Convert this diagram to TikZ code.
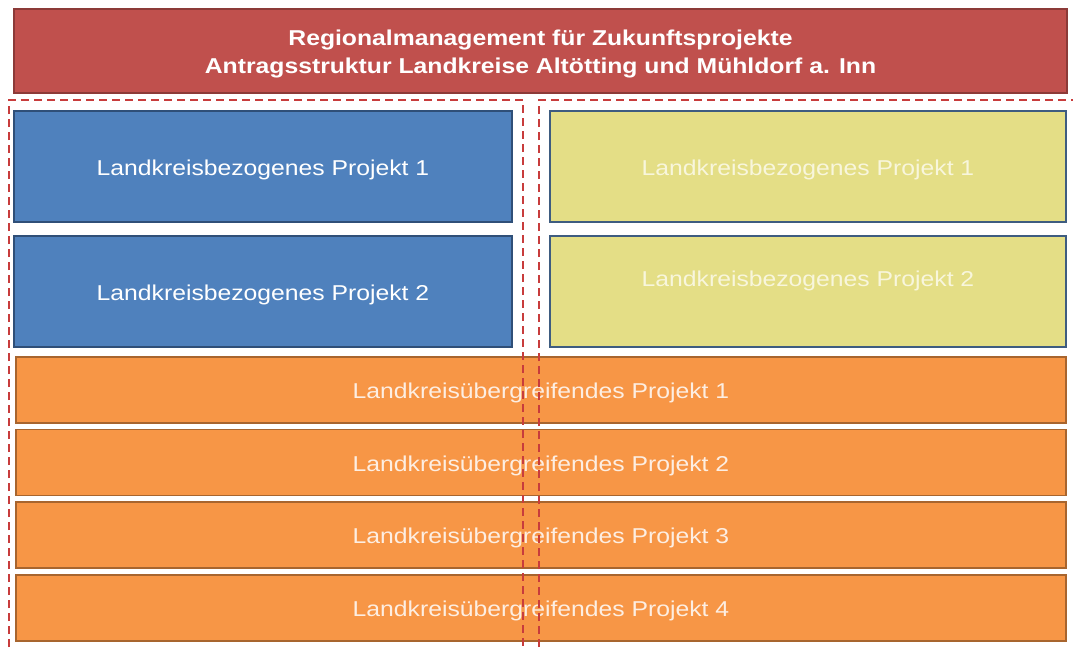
\documentclass[tikz,border=0pt]{standalone}
\usepackage{fontspec}
\newfontfamily\lab{Liberation Sans}[FakeStretch=1.15]
\definecolor{titlered}{HTML}{C0504D}
\definecolor{titleborder}{HTML}{8C3A38}
\definecolor{bluefill}{HTML}{4F81BD}
\definecolor{blueborder}{HTML}{2F4F78}
\definecolor{yelfill}{HTML}{E4DE86}
\definecolor{yelborder}{HTML}{3E5C80}
\definecolor{yeltext}{HTML}{F8F6DC}
\definecolor{orfill}{HTML}{F79646}
\definecolor{orborder}{HTML}{A8652E}
\definecolor{ortext}{HTML}{FDEEE2}
\definecolor{dashred}{HTML}{C83C3C}
\tikzset{
  box/.style={draw, line width=1.6pt, minimum height=111pt, minimum width=498pt, inner sep=0pt,
    font=\lab\fontsize{21.5}{28}\selectfont, text=white, text height=18.4pt, text depth=0pt},
  bluebox/.style={box, fill=bluefill, draw=blueborder},
  yelbox/.style={box, fill=yelfill, draw=yelborder, text=yeltext, minimum width=516pt},
  orbox/.style={box, fill=orfill, draw=orborder, text=ortext, minimum width=1050pt, minimum height=66pt,
    text height=17.4pt},
  titlebox/.style={draw=titleborder, line width=1.6pt, fill=titlered, minimum width=1053pt, minimum height=84pt},
  titletext/.style={text=white, align=center, inner sep=0pt, font=\lab\bfseries\fontsize{21.5}{28}\selectfont},
  group/.style={draw=dashred, line width=1.4pt, dash pattern=on 8pt off 5pt}
}
\begin{document}
\begin{tikzpicture}[x=1pt,y=-1pt]
\useasboundingbox (0,0) rectangle (1073,648);
\clip (0,0) rectangle (1073,648);
\fill[white] (0,0) rectangle (1073,648);
\node[titlebox] (title) at (540.5,51) {};
\node[titletext, yshift=-2.5pt] (titletxt) at (title.center) {Regionalmanagement für Zukunftsprojekte\\Antragsstruktur Landkreise Altötting und Mühldorf a. Inn};
\node[bluebox] (b1) at (263,166.5) {Landkreisbezogenes Projekt 1};
\node[bluebox] (b2) at (263,291.5) {Landkreisbezogenes Projekt 2};
\node[yelbox] (y1) at (808,166.5) {Landkreisbezogenes Projekt 1};
\node[yelbox, text height=0pt, text depth=9.6pt] (y2) at (808,291.5) {Landkreisbezogenes Projekt 2};
\node[orbox] (o1) at (541,390) {Landkreisübergreifendes Projekt 1};
\node[orbox] (o2) at (541,462.5) {Landkreisübergreifendes Projekt 2};
\node[orbox] (o3) at (541,535) {Landkreisübergreifendes Projekt 3};
\node[orbox] (o4) at (541,608) {Landkreisübergreifendes Projekt 4};
\draw[group] (9,660) -- (9,100) -- (523,100) -- (523,660);
\draw[group] (539,660) -- (539,100) -- (1085,100);
\end{tikzpicture}
\end{document}
